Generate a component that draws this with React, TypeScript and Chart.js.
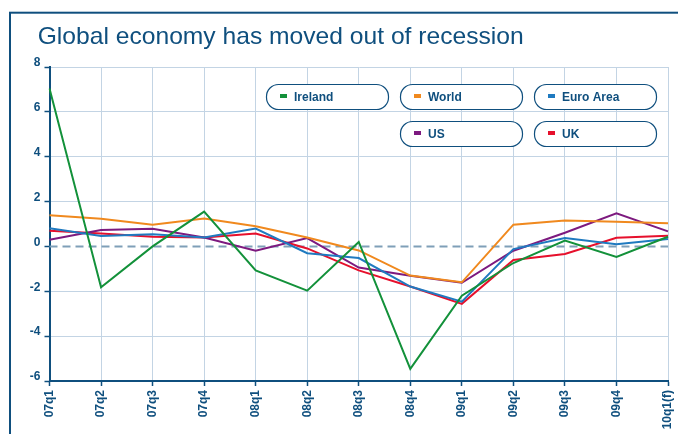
import React, { useEffect, useRef } from 'react';
import { Chart, registerables } from 'chart.js';
Chart.register(...registerables);

const W = 678;
const H = 434;
const TITLE = 'Global economy has moved out of recession';

const categories = ['07q1', '07q2', '07q3', '07q4', '08q1', '08q2', '08q3', '08q4', '09q1', '09q2', '09q3', '09q4', '10q1(f)'];
const ireland = [7.04, -1.82, 0.0, 1.55, -1.07, -1.97, 0.2, -5.46, -2.2, -0.74, 0.26, -0.47, 0.43];
const world = [1.39, 1.23, 0.97, 1.25, 0.9, 0.4, -0.18, -1.3, -1.6, 0.97, 1.16, 1.1, 1.03];
const euroArea = [0.81, 0.46, 0.54, 0.4, 0.8, -0.3, -0.52, -1.79, -2.46, -0.12, 0.37, 0.1, 0.33];
const us = [0.3, 0.73, 0.79, 0.4, -0.19, 0.37, -0.94, -1.31, -1.62, -0.19, 0.61, 1.48, 0.67];
const uk = [0.7, 0.58, 0.43, 0.4, 0.58, -0.09, -1.07, -1.79, -2.56, -0.6, -0.34, 0.39, 0.48];

const seriesNames = ['Ireland', 'World', 'Euro Area', 'US', 'UK'];
const seriesColors = ['#13913a', '#f0891e', '#1f7ac0', '#7d1a7f', '#e6102c'];
const seriesData = [ireland, world, euroArea, us, uk];

const DARK = '#0f4f7e';
const GRID = '#c3d4e4';
const FONT = '"Liberation Sans", Arial, Helvetica, sans-serif';

// legend pill slots: [left, top] per series
const legendSlots = [
  [266, 84],
  [400, 84],
  [534, 84],
  [400, 121],
  [534, 121],
];
const PILL_W = 122;
const PILL_H = 25;

function roundRect(ctx: CanvasRenderingContext2D, x: number, y: number, w: number, h: number, r: number) {
  ctx.beginPath();
  ctx.moveTo(x + r, y);
  ctx.lineTo(x + w - r, y);
  ctx.arcTo(x + w, y, x + w, y + r, r);
  ctx.lineTo(x + w, y + h - r);
  ctx.arcTo(x + w, y + h, x + w - r, y + h, r);
  ctx.lineTo(x + r, y + h);
  ctx.arcTo(x, y + h, x, y + h - r, r);
  ctx.lineTo(x, y + r);
  ctx.arcTo(x, y, x + r, y, r);
  ctx.closePath();
}

export default function App() {
  const ref = useRef<HTMLCanvasElement>(null);

  useEffect(() => {
    if (!ref.current) return;

    const decor = {
      id: 'decor',
      beforeDraw(chart: any) {
        const c = chart.ctx as CanvasRenderingContext2D;
        c.save();
        c.fillStyle = '#ffffff';
        c.fillRect(0, 0, W, H);
        c.strokeStyle = DARK;
        c.lineWidth = 2;
        c.strokeRect(10, 12.7, W + 20, H + 20);
        // title
        c.fillStyle = DARK;
        c.font = `24px ${FONT}`;
        c.textBaseline = 'alphabetic';
        const m = c.measureText(TITLE).width;
        c.translate(37.7, 44);
        c.scale(486 / m, 1);
        c.fillText(TITLE, 0, 0);
        c.restore();
      },
      beforeDatasetsDraw(chart: any) {
        const c = chart.ctx as CanvasRenderingContext2D;
        const y = chart.scales.y.getPixelForValue(0);
        const a = chart.chartArea;
        c.save();
        c.strokeStyle = '#7f9fb8';
        c.lineWidth = 2;
        c.setLineDash([8, 5]);
        c.beginPath();
        c.moveTo(a.left, y);
        c.lineTo(a.right, y);
        c.stroke();
        c.restore();
      },
      afterDraw(chart: any) {
        const c = chart.ctx as CanvasRenderingContext2D;
        c.save();
        chart.data.datasets.forEach((ds: any, i: number) => {
          const [x, y] = legendSlots[i];
          roundRect(c, x + 0.5, y + 0.5, PILL_W, PILL_H, 12);
          c.fillStyle = '#ffffff';
          c.fill();
          c.strokeStyle = DARK;
          c.lineWidth = 1.2;
          c.stroke();
          c.fillStyle = ds.borderColor;
          c.fillRect(x + 14, y + 10, 7, 4);
          c.fillStyle = DARK;
          c.font = `bold 12px ${FONT}`;
          c.textBaseline = 'middle';
          c.fillText(ds.label, x + 28, y + PILL_H / 2 + 1);
        });
        c.restore();
      },
    };

    const chart = new Chart(ref.current, {
      type: 'line',
      data: {
        labels: categories,
        datasets: seriesNames.map((name, i) => ({
          label: name,
          data: seriesData[i],
          borderColor: seriesColors[i],
          backgroundColor: seriesColors[i],
          borderWidth: 2,
          pointRadius: 0,
          tension: 0,
          fill: false,
        })),
      },
      options: {
        responsive: false,
        animation: false,
        layout: { padding: { left: 0, right: 10, top: 67, bottom: 0 } },
        plugins: {
          legend: { display: false },
          title: { display: false },
          tooltip: { enabled: false },
        },
        scales: {
          x: {
            offset: false,
            grid: {
              color: GRID,
              lineWidth: 1,
              drawTicks: true,
              tickLength: 5,
              tickColor: DARK,
              tickWidth: 1.5,
            },
            border: { color: DARK, width: 2 },
            ticks: {
              autoSkip: false,
              minRotation: 90,
              maxRotation: 90,
              padding: 4,
              color: DARK,
              font: { family: FONT, size: 12, weight: 'bold' },
            },
            afterFit(scale: any) {
              scale.height = H - 381;
              scale.paddingLeft = 0;
              scale.paddingRight = 0;
            },
          },
          y: {
            min: -6,
            max: 8,
            grid: {
              color: (ctx: any) => (ctx.tick && ctx.tick.value === 0 ? 'rgba(0,0,0,0)' : GRID),
              lineWidth: 1,
              drawTicks: true,
              tickLength: 5,
              tickColor: DARK,
              tickWidth: 1.5,
            },
            border: { color: DARK, width: 2 },
            ticks: {
              stepSize: 2,
              padding: 4,
              labelOffset: -4,
              color: DARK,
              font: { family: FONT, size: 12, weight: 'bold' },
            },
            afterFit(scale: any) {
              scale.width = 49.5;
              scale.paddingTop = 0;
              scale.paddingBottom = 0;
            },
          },
        },
      },
      plugins: [decor],
    });

    return () => chart.destroy();
  }, []);

  return (
    <div style={{ position: 'absolute', left: 0, top: 0, width: W, height: H, background: '#fff' }}>
      <canvas ref={ref} width={W} height={H} style={{ display: 'block', width: W, height: H }} />
    </div>
  );
}
